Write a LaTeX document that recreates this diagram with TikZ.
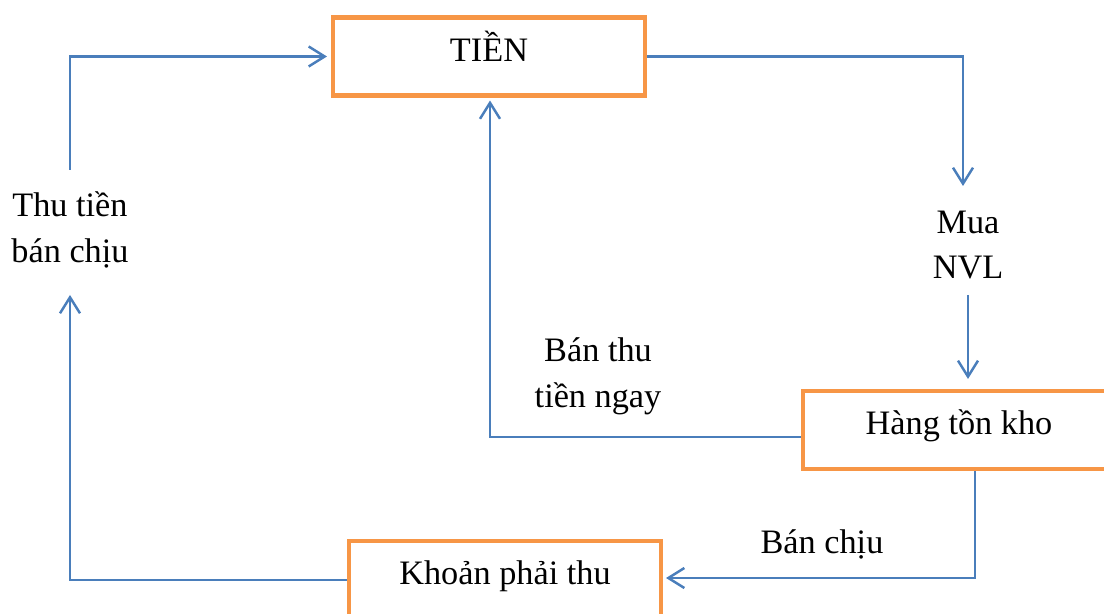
\documentclass[tikz,border=0pt]{standalone}
\usepackage{fontspec}
\setmainfont{Liberation Serif}
\usetikzlibrary{arrows.meta}
\definecolor{flowblue}{HTML}{4A7EBB}
\definecolor{boxorange}{HTML}{F79646}
\begin{document}
\begin{tikzpicture}[
    font=\fontsize{19.5}{26}\selectfont,
    box/.style={draw=boxorange, line width=2.3pt, fill=white,
        minimum width=6.24cm, minimum height=1.56cm,
        text height=0.3cm, text depth=0.1cm},
    flow/.style={draw=flowblue, line width=1.4pt,
        -{Straight Barb[length=0.32cm, width=0.4cm]}},
    lbl/.style={align=center}
]
    \useasboundingbox (0,0) rectangle (22.08,12.28);

    % Kaesten
    \node[box] (tien) at (9.78, 11.15) {TIỀN};
    \node[box] (hang) at (19.18, 3.68) {Hàng tồn kho};
    \node[box] (khoan) at (10.10, 0.68) {Khoản phải thu};

    % Beschriftungen
    \node[lbl] (mua) at (19.36, 7.38) {Mua\\NVL};
    \node[lbl] (banthu) at (11.96, 4.76) {Bán thu\\tiền ngay};
    \node[lbl] (banchiu) at (16.44, 1.40) {Bán chịu};
    \node[lbl] (thu) at (1.40, 7.68) {Thu tiền\\bán chịu};

    % freie Enden
    \coordinate (c1) at (19.26, 8.56);
    \coordinate (c2) at (19.36, 6.38);
    \coordinate (c3) at (1.40, 6.38);
    \coordinate (c4) at (1.40, 8.88);

    % Mua NVL
    \draw[flow] (tien.east) -| (c1);
    \draw[flow, shorten >=0.2cm] (c2) -- (c2 |- hang.north);

    % Ban thu tien ngay
    \draw[flow, shorten >=0.06cm] ([yshift=-0.14cm]hang.west) -| ([xshift=0.02cm]tien.south);

    % Ban chiu
    \draw[flow, shorten >=0.06cm] ([xshift=0.32cm]hang.south) |- ([yshift=0.04cm]khoan.east);

    % Thu tien ban chiu
    \draw[flow] (khoan.west) -| (c3);
    \draw[flow, shorten >=0.08cm] (c4) |- (tien.west);
\end{tikzpicture}
\end{document}
